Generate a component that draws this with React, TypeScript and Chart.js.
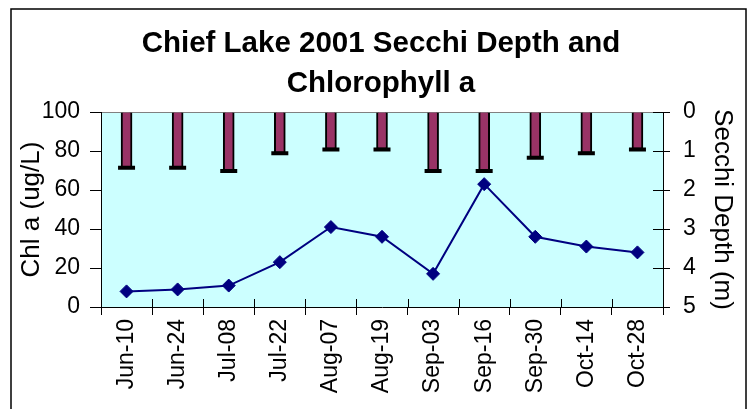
import React, { useEffect, useRef } from "react";
import { Chart, registerables } from "chart.js";

Chart.register(...registerables);

const categories = ["Jun-10", "Jun-24", "Jul-08", "Jul-22", "Aug-07", "Aug-19", "Sep-03", "Sep-16", "Sep-30", "Oct-14", "Oct-28"];
const chlA = [8, 9, 11, 23, 41, 36, 17, 63, 36, 31, 28];
const secchiDepth = [1.43, 1.43, 1.51, 1.06, 0.96, 0.96, 1.51, 1.51, 1.17, 1.06, 0.96];
const titleLines = ["Chief Lake 2001 Secchi Depth and", "Chlorophyll a"];
const leftAxisTitle = "Chl a (ug/L)";
const rightAxisTitle = "Secchi Depth (m)";

const FONT = "'Liberation Sans', Arial, Helvetica, sans-serif";

const decorPlugin = {
  id: "decor",
  beforeDraw(chart: any) {
    const { ctx, chartArea } = chart;
    const { left, top, right, bottom } = chartArea;
    ctx.save();
    ctx.fillStyle = "#CCFFFF";
    ctx.fillRect(left, top, right - left, bottom - top);
    ctx.strokeStyle = "#808080";
    ctx.lineWidth = 1;
    ctx.beginPath();
    ctx.moveTo(left, top + 0.5);
    ctx.lineTo(right, top + 0.5);
    ctx.stroke();
    // outer chart border
    ctx.strokeStyle = "#000";
    ctx.lineWidth = 1.5;
    ctx.strokeRect(11, 9, 735, 420);
    ctx.restore();
  },
  afterDraw(chart: any) {
    const { ctx, chartArea, scales } = chart;
    const { left, right, bottom } = chartArea;
    ctx.save();
    ctx.strokeStyle = "#000";
    ctx.lineWidth = 1;
    // inner halves of the x-axis cross ticks
    const n = scales.x.ticks.length;
    const w = (right - left) / n;
    ctx.beginPath();
    for (let i = 0; i <= n; i++) {
      const x = Math.round(left + i * w) + 0.5;
      ctx.moveTo(x, bottom);
      ctx.lineTo(x, bottom - 8);
    }
    // inner halves of right axis cross ticks
    const y2 = scales.y2;
    for (let i = 0; i < y2.ticks.length; i++) {
      const y = Math.round(y2.getPixelForTick(i)) + 0.5;
      ctx.moveTo(right, y);
      ctx.lineTo(right - 10, y);
    }
    ctx.stroke();
    ctx.restore();
  },
};

export default function App() {
  const canvasRef = useRef<HTMLCanvasElement | null>(null);

  useEffect(() => {
    const canvas = canvasRef.current;
    if (!canvas) return;
    const chart = new Chart(canvas, {
      type: "bar",
      data: {
        labels: categories,
        datasets: [
          {
            type: "line",
            label: "Chl a",
            data: chlA,
            yAxisID: "y",
            borderColor: "#000080",
            backgroundColor: "#000080",
            borderWidth: 2,
            pointStyle: "rectRot",
            pointRadius: 6.5,
            pointBorderWidth: 1,
            tension: 0,
            order: 0,
          } as any,
          {
            type: "line",
            label: "Secchi end",
            data: secchiDepth,
            yAxisID: "y2",
            showLine: false,
            pointStyle: "line",
            pointRadius: 8.5,
            pointBorderWidth: 4,
            borderColor: "#000",
            backgroundColor: "#000",
            order: 1,
          } as any,
          {
            type: "bar",
            label: "Secchi Depth",
            data: secchiDepth,
            yAxisID: "y2",
            backgroundColor: "#993366",
            borderColor: "#000",
            borderWidth: 2,
            barThickness: 11,
            order: 2,
          } as any,
        ],
      },
      options: {
        animation: false,
        responsive: false,
        maintainAspectRatio: false,
        layout: { padding: { left: 11, right: 0, top: 0, bottom: 0 } },
        plugins: {
          legend: { display: false },
          tooltip: { enabled: false },
          title: {
            display: true,
            text: titleLines,
            color: "#000",
            font: { family: FONT, size: 29.5, weight: "bold", lineHeight: 40 / 29.5 },
            padding: { top: 24, bottom: 8 },
          },
        },
        scales: {
          x: {
            type: "category",
            offset: true,
            grid: { offset: true, drawOnChartArea: false, tickLength: 8, color: "#000", lineWidth: 1 },
            border: { color: "#000", width: 1 },
            ticks: {
              autoSkip: false,
              minRotation: 90,
              maxRotation: 90,
              padding: 4,
              color: "#000",
              font: { family: FONT, size: 23 },
            },
            afterFit: (s: any) => {
              s.height = 102;
            },
          },
          y: {
            position: "left",
            min: 0,
            max: 100,
            grid: { drawOnChartArea: false, tickLength: 11, color: "#000" },
            border: { color: "#000", width: 1 },
            ticks: { stepSize: 20, padding: 10, color: "#000", font: { family: FONT, size: 23 } },
            title: {
              display: true,
              text: leftAxisTitle,
              color: "#000",
              font: { family: FONT, size: 26 },
              padding: { top: 5, bottom: 0 },
            },
            afterFit: (s: any) => {
              s.width = 90;
            },
          },
          y2: {
            position: "right",
            min: 0,
            max: 5,
            reverse: true,
            grid: { drawOnChartArea: false, tickLength: 7, color: "#000" },
            border: { color: "#000", width: 1 },
            ticks: { stepSize: 1, padding: 13, color: "#000", font: { family: FONT, size: 23 } },
            title: {
              display: true,
              text: rightAxisTitle,
              color: "#000",
              font: { family: FONT, size: 26 },
              padding: { top: 13, bottom: 0 },
            },
            afterFit: (s: any) => {
              s.width = 88;
            },
          },
        },
      } as any,
      plugins: [decorPlugin],
    });
    return () => chart.destroy();
  }, []);

  return (
    <canvas
      ref={canvasRef}
      width={751}
      height={409}
      style={{ position: "absolute", left: 0, top: 0, width: 751, height: 409, display: "block" }}
    />
  );
}
